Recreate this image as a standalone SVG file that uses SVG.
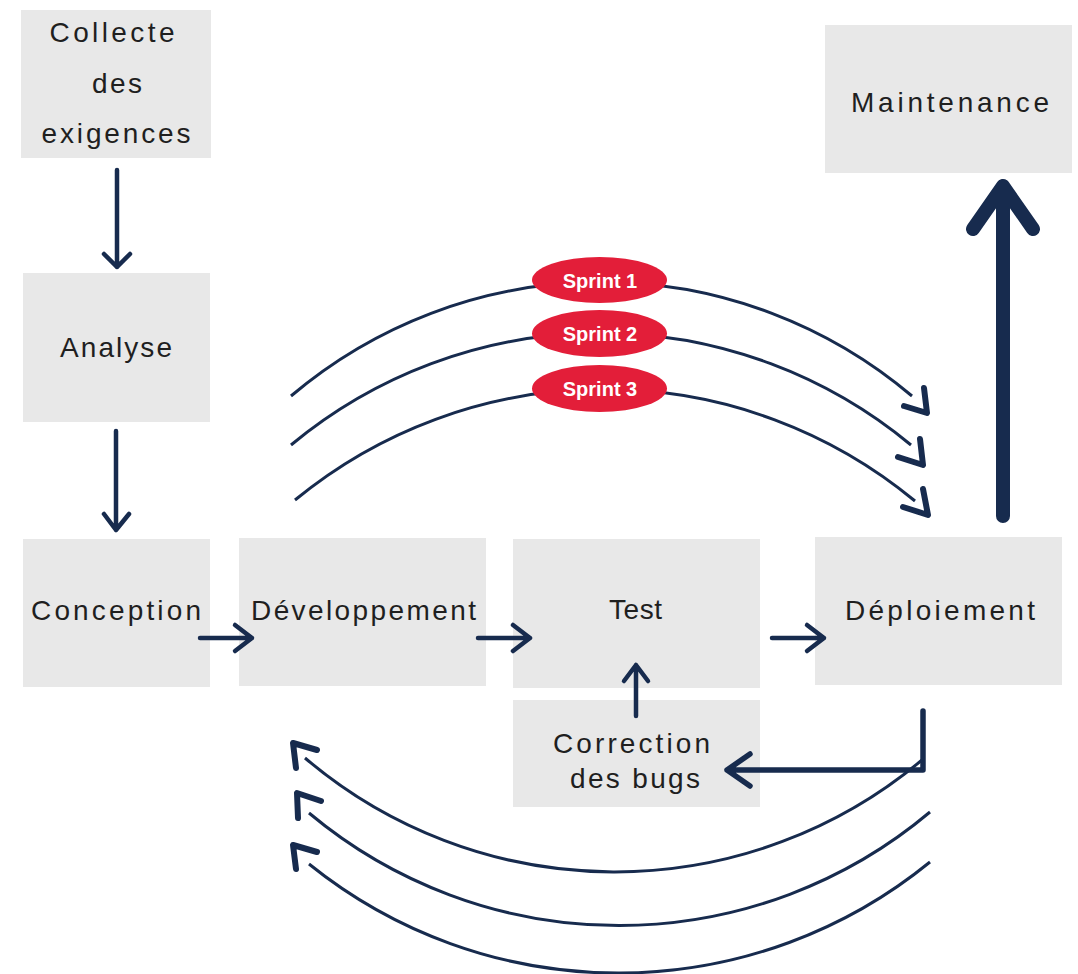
<svg xmlns="http://www.w3.org/2000/svg" width="1078" height="974" viewBox="0 0 1078 974">
<style>
.box{fill:#e8e8e8}
.lbl{font-family:"Liberation Sans",Arial,sans-serif;font-size:28px;fill:#1f1f1f;text-anchor:middle}
.ln{fill:none;stroke:#172b4e;stroke-width:4.5;stroke-linecap:round;stroke-linejoin:round}
.arc{fill:none;stroke:#172b4e;stroke-width:3}
.chev{fill:none;stroke:#172b4e;stroke-width:6;stroke-linecap:round;stroke-linejoin:round}
.sp{fill:#e31e39}
.spt{font-family:"Liberation Sans",Arial,sans-serif;font-size:20px;font-weight:bold;fill:#ffffff;text-anchor:middle}
</style>
<rect width="1078" height="974" fill="#ffffff"/>
<g id="collecte"><rect class="box" x="21" y="10" width="190" height="148"/>
<text class="lbl" x="112" y="42" textLength="125" lengthAdjust="spacing">Collecte</text>
<text class="lbl" x="117" y="93" textLength="50" lengthAdjust="spacing">des</text>
<text class="lbl" x="116" y="143" textLength="149" lengthAdjust="spacing">exigences</text></g>
<g id="analyse"><rect class="box" x="23" y="273" width="187" height="149"/>
<text class="lbl" x="116" y="357" textLength="112" lengthAdjust="spacing">Analyse</text></g>
<g id="conception"><rect class="box" x="23" y="539" width="187" height="148"/>
<text class="lbl" x="116" y="620" textLength="170" lengthAdjust="spacing">Conception</text></g>
<g id="developpement"><rect class="box" x="239" y="538" width="247" height="148"/>
<text class="lbl" x="363.5" y="620" textLength="225" lengthAdjust="spacing">Développement</text></g>
<g id="test"><rect class="box" x="513" y="539" width="247" height="149"/>
<text class="lbl" x="635.5" y="619" textLength="53" lengthAdjust="spacing">Test</text></g>
<g id="correction"><rect class="box" x="513" y="700" width="247" height="107"/>
<text class="lbl" x="631.5" y="753" textLength="157" lengthAdjust="spacing">Correction</text>
<text class="lbl" x="635" y="788" textLength="130" lengthAdjust="spacing">des bugs</text></g>
<g id="deploiement"><rect class="box" x="815" y="537" width="247" height="148"/>
<text class="lbl" x="940" y="620" textLength="190" lengthAdjust="spacing">Déploiement</text></g>
<g id="maintenance"><rect class="box" x="825" y="25" width="247" height="148"/>
<text class="lbl" x="950" y="112" textLength="198" lengthAdjust="spacing">Maintenance</text></g>
<g id="connectors">
<path class="ln" d="M117 170 V267 M104 254 L117 267 L130 254"/>
<path class="ln" d="M116 431 V530 M104 514 L116 530 L129 514"/>
<path class="ln" d="M200 638 H252 M235 625 L252 638 L235 651"/>
<path class="ln" d="M478 638 H530 M513 625 L530 638 L513 651"/>
<path class="ln" d="M772 638 H824 M807 625 L824 638 L807 651"/>
<path class="ln" d="M636 716 V665 M624 681 L636 665 L648 681"/>
<path class="ln" style="stroke-width:5.5" d="M923 711 V770 H727 M750 754 L727 770 L750 786"/>
<path class="ln" style="stroke-width:14" d="M1003 516 V186 M973 229 L1003 186 L1033 229"/>
<path class="arc" d="M291 396 A480 480 0 0 1 912 396"/>
<path class="arc" d="M291 445 A485 485 0 0 1 911 445"/>
<path class="arc" d="M295 500 A487 487 0 0 1 915 501"/>
<polyline class="chev" points="904,406 927,413 924,388"/>
<polyline class="chev" points="898,457 923,465 920,439"/>
<polyline class="chev" points="903,507 928,515 923,489"/>
<path class="arc" d="M922 760 A478 478 0 0 1 305 758"/>
<path class="arc" d="M930 812 A483 483 0 0 1 309 813"/>
<path class="arc" d="M930 862 A493 493 0 0 1 309 864"/>
<polyline class="chev" points="317,750 293,743 296,768"/>
<polyline class="chev" points="321,801 297,793 298,818"/>
<polyline class="chev" points="317,852 293,845 296,869"/>
</g>
<g id="sprint1"><ellipse class="sp" cx="599.5" cy="280" rx="67.5" ry="23"/><text class="spt" x="600" y="288">Sprint 1</text></g>
<g id="sprint2"><ellipse class="sp" cx="599.5" cy="333.5" rx="67.5" ry="23.5"/><text class="spt" x="600" y="341">Sprint 2</text></g>
<g id="sprint3"><ellipse class="sp" cx="599.5" cy="388.5" rx="67.5" ry="23.5"/><text class="spt" x="600" y="396">Sprint 3</text></g>
</svg>
